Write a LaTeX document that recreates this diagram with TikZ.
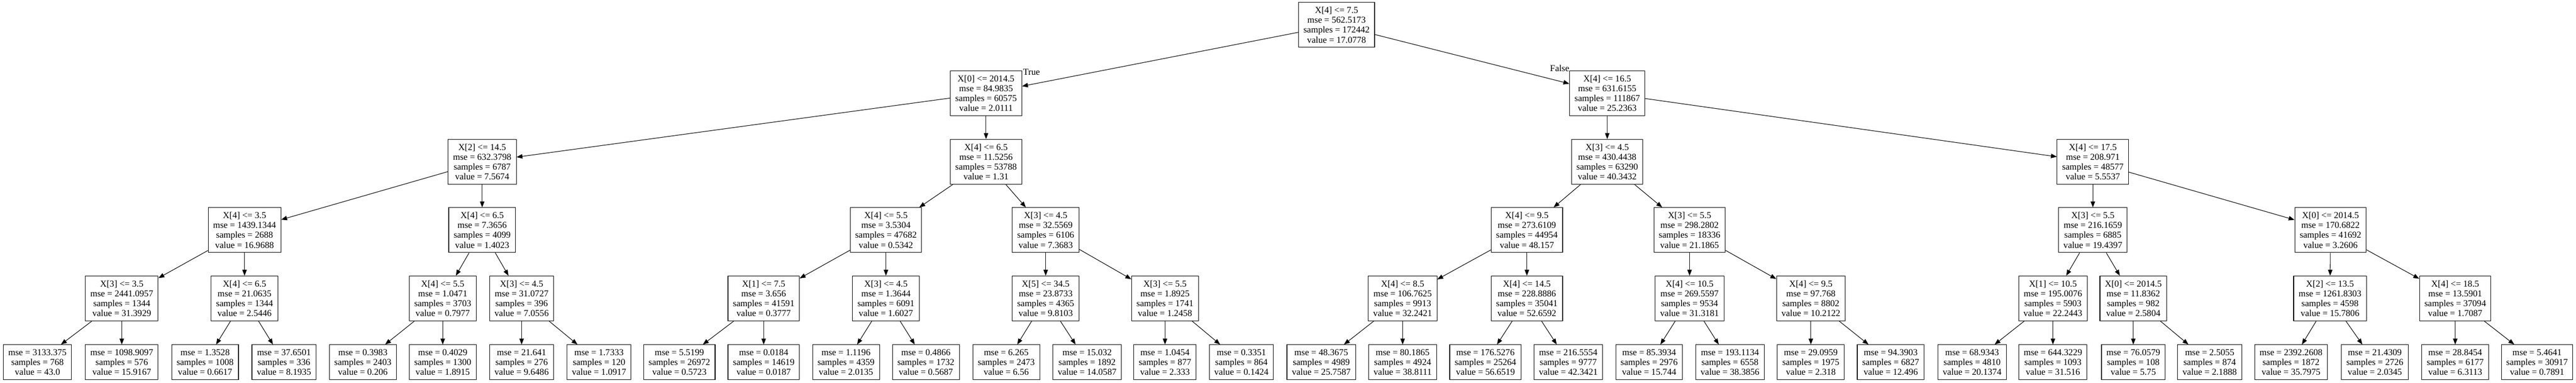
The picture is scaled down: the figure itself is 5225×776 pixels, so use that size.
\documentclass[tikz,border=0pt]{standalone}
\usepackage{fontspec}
\setmainfont{Liberation Serif}
\usetikzlibrary{arrows.meta,shapes}
\tikzset{
treenode/.style = {align=center, inner xsep=10pt, inner ysep=0pt, text centered,
font=\fontsize{18.4}{20}\selectfont},
dt_n/.style = {treenode, rectangle, draw=black, line width=1.1pt, minimum height=91pt},% split node, four lines
dt_l/.style = {treenode, rectangle, draw=black, line width=1.1pt, minimum height=71pt},% leaf, three lines
dt_e/.style = {-{Triangle[length=12pt,width=9pt]}, line width=1.1pt},% edge parent -> child
dt_lbl/.style = {font=\fontsize{18.4}{20}\selectfont, inner sep=0pt}% True / False
}
\begin{document}
\begin{tikzpicture}[x=1pt,y=1pt]
  \useasboundingbox (0,0) rectangle (5225,-776);
  % level 0 and 1
  \node [dt_n] (n0) at (2711,-50.5) {X[4] <= 7.5\\mse = 562.5173\\samples = 172442\\value = 17.0778};
  \node [dt_n] (n1) at (2000,-189) {X[0] <= 2014.5\\mse = 84.9835\\samples = 60575\\value = 2.0111};
  \node [dt_n] (n32) at (3260,-189) {X[4] <= 16.5\\mse = 631.6155\\samples = 111867\\value = 25.2363};
  % left part
  \node [dt_n] (n2) at (978,-328) {X[2] <= 14.5\\mse = 632.3798\\samples = 6787\\value = 7.5674};
  \node [dt_n] (n3) at (496,-466.5) {X[4] <= 3.5\\mse = 1439.1344\\samples = 2688\\value = 16.9688};
  \node [dt_n] (n4) at (247,-605) {X[3] <= 3.5\\mse = 2441.0957\\samples = 1344\\value = 31.3929};
  \node [dt_l] (n5) at (76,-734.5) {mse = 3133.375\\samples = 768\\value = 43.0};
  \node [dt_l] (n6) at (247,-734.5) {mse = 1098.9097\\samples = 576\\value = 15.9167};
  \node [dt_n] (n7) at (496,-605) {X[4] <= 6.5\\mse = 21.0635\\samples = 1344\\value = 2.5446};
  \node [dt_l] (n8) at (416,-734.5) {mse = 1.3528\\samples = 1008\\value = 0.6617};
  \node [dt_l] (n9) at (576,-734.5) {mse = 37.6501\\samples = 336\\value = 8.1935};
  \node [dt_n] (n10) at (978,-466.5) {X[4] <= 6.5\\mse = 7.3656\\samples = 4099\\value = 1.4023};
  \node [dt_n] (n11) at (898,-605) {X[4] <= 5.5\\mse = 1.0471\\samples = 3703\\value = 0.7977};
  \node [dt_l] (n12) at (736,-734.5) {mse = 0.3983\\samples = 2403\\value = 0.206};
  \node [dt_l] (n13) at (898,-734.5) {mse = 0.4029\\samples = 1300\\value = 1.8915};
  \node [dt_n] (n14) at (1058,-605) {X[3] <= 4.5\\mse = 31.0727\\samples = 396\\value = 7.0556};
  \node [dt_l] (n15) at (1058,-734.5) {mse = 21.641\\samples = 276\\value = 9.6486};
  \node [dt_l] (n16) at (1215,-734.5) {mse = 1.7333\\samples = 120\\value = 1.0917};
  \node [dt_n] (n17) at (2000,-328) {X[4] <= 6.5\\mse = 11.5256\\samples = 53788\\value = 1.31};
  \node [dt_n] (n18) at (1797,-466.5) {X[4] <= 5.5\\mse = 3.5304\\samples = 47682\\value = 0.5342};
  \node [dt_n] (n19) at (1549,-605) {X[1] <= 7.5\\mse = 3.656\\samples = 41591\\value = 0.3777};
  \node [dt_l] (n20) at (1378,-734.5) {mse = 5.5199\\samples = 26972\\value = 0.5723};
  \node [dt_l] (n21) at (1549,-734.5) {mse = 0.0184\\samples = 14619\\value = 0.0187};
  \node [dt_n] (n22) at (1797,-605) {X[3] <= 4.5\\mse = 1.3644\\samples = 6091\\value = 1.6027};
  \node [dt_l] (n23) at (1716,-734.5) {mse = 1.1196\\samples = 4359\\value = 2.0135};
  \node [dt_l] (n24) at (1878,-734.5) {mse = 0.4866\\samples = 1732\\value = 0.5687};
  \node [dt_n] (n25) at (2121,-466.5) {X[3] <= 4.5\\mse = 32.5569\\samples = 6106\\value = 7.3683};
  \node [dt_n] (n26) at (2121,-605) {X[5] <= 34.5\\mse = 23.8733\\samples = 4365\\value = 9.8103};
  \node [dt_l] (n27) at (2041,-734.5) {mse = 6.265\\samples = 2473\\value = 6.56};
  \node [dt_l] (n28) at (2205,-734.5) {mse = 15.032\\samples = 1892\\value = 14.0587};
  \node [dt_n] (n29) at (2363,-605) {X[3] <= 5.5\\mse = 1.8925\\samples = 1741\\value = 1.2458};
  \node [dt_l] (n30) at (2363,-734.5) {mse = 1.0454\\samples = 877\\value = 2.333};
  \node [dt_l] (n31) at (2518,-734.5) {mse = 0.3351\\samples = 864\\value = 0.1424};
  % right part
  \node [dt_n] (n33) at (3260,-328) {X[3] <= 4.5\\mse = 430.4438\\samples = 63290\\value = 40.3432};
  \node [dt_n] (n34) at (3097,-466.5) {X[4] <= 9.5\\mse = 273.6109\\samples = 44954\\value = 48.157};
  \node [dt_n] (n35) at (2845,-605) {X[4] <= 8.5\\mse = 106.7625\\samples = 9913\\value = 32.2421};
  \node [dt_l] (n36) at (2680,-734.5) {mse = 48.3675\\samples = 4989\\value = 25.7587};
  \node [dt_l] (n37) at (2845,-734.5) {mse = 80.1865\\samples = 4924\\value = 38.8111};
  \node [dt_n] (n38) at (3097,-605) {X[4] <= 14.5\\mse = 228.8886\\samples = 35041\\value = 52.6592};
  \node [dt_l] (n39) at (3013,-734.5) {mse = 176.5276\\samples = 25264\\value = 56.6519};
  \node [dt_l] (n40) at (3181,-734.5) {mse = 216.5554\\samples = 9777\\value = 42.3421};
  \node [dt_n] (n41) at (3427,-466.5) {X[3] <= 5.5\\mse = 298.2802\\samples = 18336\\value = 21.1865};
  \node [dt_n] (n42) at (3427,-605) {X[4] <= 10.5\\mse = 269.5597\\samples = 9534\\value = 31.3181};
  \node [dt_l] (n43) at (3345,-734.5) {mse = 85.3934\\samples = 2976\\value = 15.744};
  \node [dt_l] (n44) at (3509,-734.5) {mse = 193.1134\\samples = 6558\\value = 38.3856};
  \node [dt_n] (n45) at (3673,-605) {X[4] <= 9.5\\mse = 97.768\\samples = 8802\\value = 10.2122};
  \node [dt_l] (n46) at (3673,-734.5) {mse = 29.0959\\samples = 1975\\value = 2.318};
  \node [dt_l] (n47) at (3835,-734.5) {mse = 94.3903\\samples = 6827\\value = 12.496};
  \node [dt_n] (n48) at (4245,-328) {X[4] <= 17.5\\mse = 208.971\\samples = 48577\\value = 5.5537};
  \node [dt_n] (n49) at (4245,-466.5) {X[3] <= 5.5\\mse = 216.1659\\samples = 6885\\value = 19.4397};
  \node [dt_n] (n50) at (4164,-605) {X[1] <= 10.5\\mse = 195.0076\\samples = 5903\\value = 22.2443};
  \node [dt_l] (n51) at (4000,-734.5) {mse = 68.9343\\samples = 4810\\value = 20.1374};
  \node [dt_l] (n52) at (4164,-734.5) {mse = 644.3229\\samples = 1093\\value = 31.516};
  \node [dt_n] (n53) at (4327,-605) {X[0] <= 2014.5\\mse = 11.8362\\samples = 982\\value = 2.5804};
  \node [dt_l] (n54) at (4327,-734.5) {mse = 76.0579\\samples = 108\\value = 5.75};
  \node [dt_l] (n55) at (4482,-734.5) {mse = 2.5055\\samples = 874\\value = 2.1888};
  \node [dt_n] (n56) at (4727,-466.5) {X[0] <= 2014.5\\mse = 170.6822\\samples = 41692\\value = 3.2606};
  \node [dt_n] (n57) at (4726,-605) {X[2] <= 13.5\\mse = 1261.8303\\samples = 4598\\value = 15.7806};
  \node [dt_l] (n58) at (4647,-734.5) {mse = 2392.2608\\samples = 1872\\value = 35.7975};
  \node [dt_l] (n59) at (4817,-734.5) {mse = 21.4309\\samples = 2726\\value = 2.0345};
  \node [dt_n] (n60) at (4980,-605) {X[4] <= 18.5\\mse = 13.5901\\samples = 37094\\value = 1.7087};
  \node [dt_l] (n61) at (4980,-734.5) {mse = 28.8454\\samples = 6177\\value = 6.3113};
  \node [dt_l] (n62) at (5146,-734.5) {mse = 5.4641\\samples = 30917\\value = 0.7891};
  % edge labels
  \node [dt_lbl, anchor=base west] (lbl_t) at ([xshift=2pt,yshift=-9pt]n1.north east) {True};
  \node [dt_lbl, anchor=base east] (lbl_f) at ([yshift=-2pt]n32.north west) {False};
  % edges
  \draw [dt_e] (n0) edge (n1) edge (n32);
  \draw [dt_e] (n1) edge (n2) edge (n17);
  \draw [dt_e] (n2) edge (n3) edge (n10);
  \draw [dt_e] (n3) edge (n4) edge (n7);
  \draw [dt_e] (n4) edge (n5) edge (n6);
  \draw [dt_e] (n7) edge (n8) edge (n9);
  \draw [dt_e] (n10) edge (n11) edge (n14);
  \draw [dt_e] (n11) edge (n12) edge (n13);
  \draw [dt_e] (n14) edge (n15) edge (n16);
  \draw [dt_e] (n17) edge (n18) edge (n25);
  \draw [dt_e] (n18) edge (n19) edge (n22);
  \draw [dt_e] (n19) edge (n20) edge (n21);
  \draw [dt_e] (n22) edge (n23) edge (n24);
  \draw [dt_e] (n25) edge (n26) edge (n29);
  \draw [dt_e] (n26) edge (n27) edge (n28);
  \draw [dt_e] (n29) edge (n30) edge (n31);
  \draw [dt_e] (n32) edge (n33) edge (n48);
  \draw [dt_e] (n33) edge (n34) edge (n41);
  \draw [dt_e] (n34) edge (n35) edge (n38);
  \draw [dt_e] (n35) edge (n36) edge (n37);
  \draw [dt_e] (n38) edge (n39) edge (n40);
  \draw [dt_e] (n41) edge (n42) edge (n45);
  \draw [dt_e] (n42) edge (n43) edge (n44);
  \draw [dt_e] (n45) edge (n46) edge (n47);
  \draw [dt_e] (n48) edge (n49) edge (n56);
  \draw [dt_e] (n49) edge (n50) edge (n53);
  \draw [dt_e] (n50) edge (n51) edge (n52);
  \draw [dt_e] (n53) edge (n54) edge (n55);
  \draw [dt_e] (n56) edge (n57) edge (n60);
  \draw [dt_e] (n57) edge (n58) edge (n59);
  \draw [dt_e] (n60) edge (n61) edge (n62);
\end{tikzpicture}
\end{document}
